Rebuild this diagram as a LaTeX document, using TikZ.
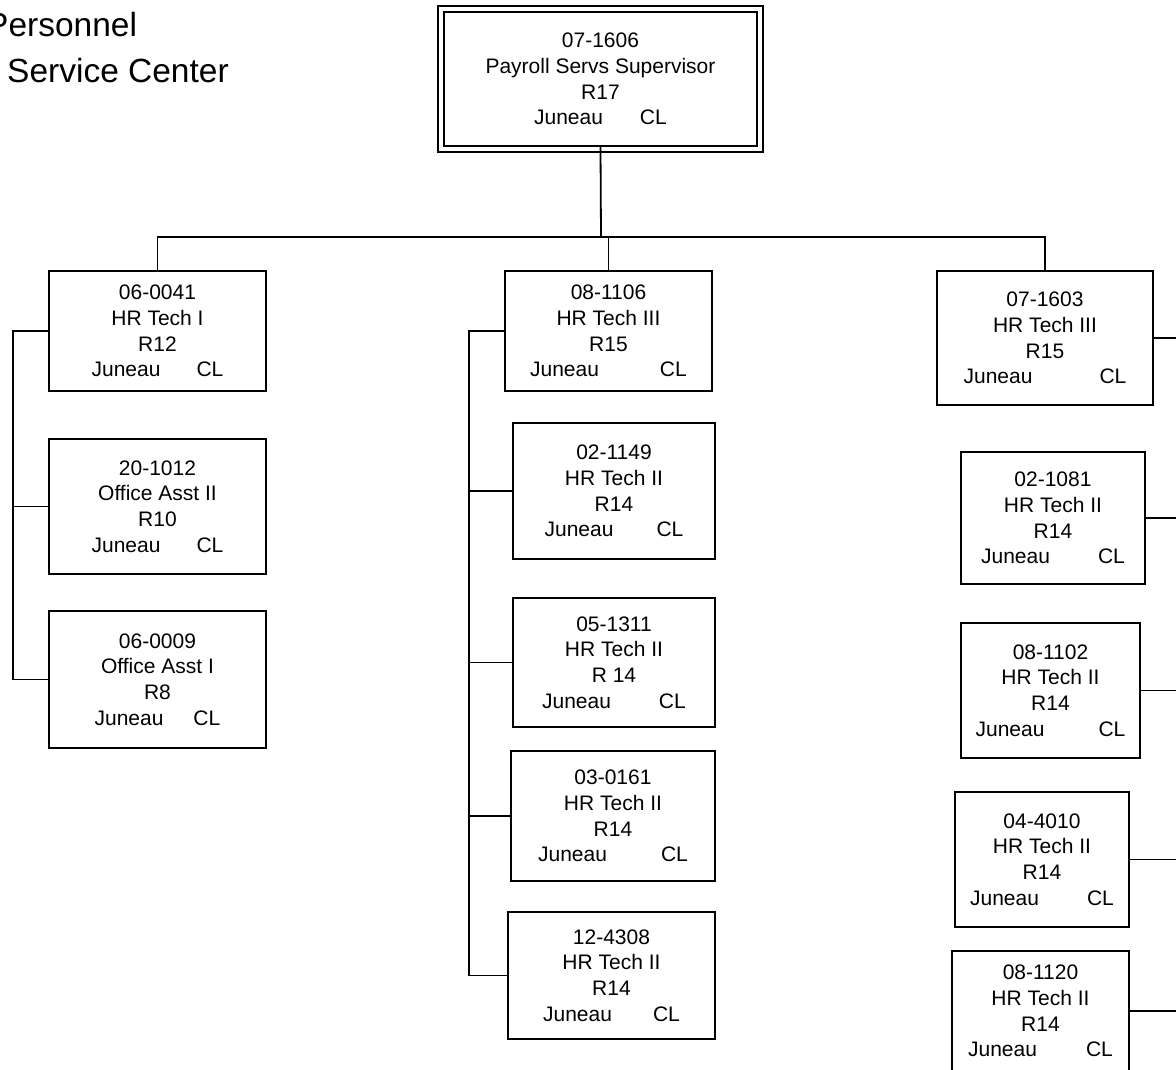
\documentclass[tikz,border=0pt]{standalone}
\usepackage{fontspec}
\setmainfont{Liberation Sans}
\begin{document}
\begin{tikzpicture}[x=1pt,y=-1pt,
  posbox/.style={draw, line width=1.6pt, inner sep=0pt, align=center, font=\fontsize{21}{25.7}\selectfont},
  link/.style={line width=1.8pt},
  thinlink/.style={line width=1.3pt},
  titletext/.style={anchor=base west, inner sep=0pt, font=\fontsize{33.5}{40}\selectfont}]
\useasboundingbox (0,0) rectangle (1176,1069);
\clip (0,0) rectangle (1176,1069);

% title
\node[titletext] (t1) at (-14,36) {Personnel};
\node[titletext] (t2) at (7,82) {Service Center};

% top
\node[posbox, minimum width=313pt, minimum height=134pt] (top) at (600.5,79)
  {07-1606\\Payroll Servs Supervisor\\R17\\Juneau\hspace{37pt}CL};
\draw[line width=1.6pt] ([shift={(-5pt,5pt)}]top.north west) rectangle ([shift={(5pt,-5pt)}]top.south east);

% level 1
\node[posbox, minimum width=217pt, minimum height=120pt] (b1) at (157.5,331)
  {06-0041\\HR Tech I\\R12\\Juneau\hspace{36pt}CL};
\node[posbox, minimum width=207pt, minimum height=120pt] (b2) at (608.5,331)
  {08-1106\\HR Tech III\\R15\\Juneau\hspace{61pt}CL};
\node[posbox, minimum width=216pt, minimum height=134pt] (b3) at (1045,338)
  {07-1603\\HR Tech III\\R15\\Juneau\hspace{67pt}CL};

% left children
\node[posbox, minimum width=217pt, minimum height=135pt] (c1) at (157.5,506.5)
  {20-1012\\Office Asst II\\R10\\Juneau\hspace{36pt}CL};
\node[posbox, minimum width=217pt, minimum height=137pt] (c2) at (157.5,679.5)
  {06-0009\\Office Asst I\\R8\\Juneau\hspace{30pt}CL};

% middle children
\node[posbox, minimum width=202pt, minimum height=136pt] (d1) at (614,491)
  {02-1149\\HR Tech II\\R14\\Juneau\hspace{43pt}CL};
\node[posbox, minimum width=202pt, minimum height=129pt] (d2) at (614,662.5)
  {05-1311\\HR Tech II\\R 14\\Juneau\hspace{48pt}CL};
\node[posbox, minimum width=204pt, minimum height=130pt] (d3) at (613,816)
  {03-0161\\HR Tech II\\R14\\Juneau\hspace{54pt}CL};
\node[posbox, minimum width=207pt, minimum height=127pt] (d4) at (611.5,975.5)
  {12-4308\\HR Tech II\\R14\\Juneau\hspace{41pt}CL};

% right children
\node[posbox, minimum width=184pt, minimum height=132pt] (e1) at (1053,518)
  {02-1081\\HR Tech II\\R14\\Juneau\hspace{48pt}CL};
\node[posbox, minimum width=179pt, minimum height=135pt] (e2) at (1050.5,690.5)
  {08-1102\\HR Tech II\\R14\\Juneau\hspace{54pt}CL};
\node[posbox, minimum width=174pt, minimum height=135pt] (e3) at (1042,859.5)
  {04-4010\\HR Tech II\\R14\\Juneau\hspace{48pt}CL};
\node[posbox, minimum width=177pt, minimum height=120pt] (e4) at (1040.5,1011)
  {08-1120\\HR Tech II\\R14\\Juneau\hspace{49pt}CL};

% connectors from top
\coordinate (bar) at (601,237);
\draw[link] (top.south) -- (bar);
\draw[link] (b1.north) |- (bar) -| (b3.north);
\draw[thinlink] (b2.north) -- (b2.north |- bar);

% left spine
\coordinate (spL) at (13,0);
\draw[link] (b1.west) -- (b1.west -| spL) |- (c2.west);
\draw[link] (c1.west) -- (c1.west -| spL);

% middle spine
\coordinate (spM) at (469,0);
\draw[link] (b2.west) -- (b2.west -| spM) |- (d4.west);
\draw[link] (d1.west) -- (d1.west -| spM);
\draw[link] (d2.west) -- (d2.west -| spM);
\draw[link] (d3.west) -- (d3.west -| spM);

% right side (spine beyond the page)
\coordinate (spR) at (1180,0);
\draw[link] (b3.east) -- (b3.east -| spR);
\draw[link] (e1.east) -- (e1.east -| spR);
\draw[link] (e2.east) -- (e2.east -| spR);
\draw[link] (e3.east) -- (e3.east -| spR);
\draw[link] (e4.east) -- (e4.east -| spR);
\end{tikzpicture}
\end{document}
